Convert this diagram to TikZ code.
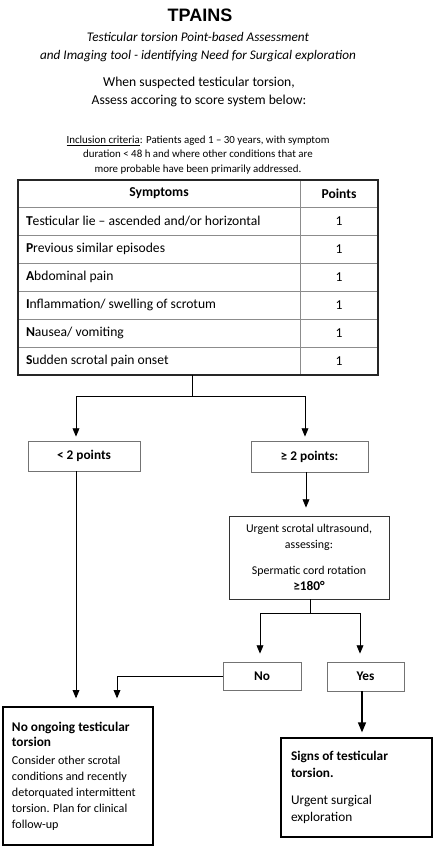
\documentclass[tikz,border=0pt]{standalone}
\usepackage{fontspec}
\setmainfont{Carlito}
\newfontfamily\headfont{Liberation Sans}
\usetikzlibrary{arrows,positioning}
\tikzstyle{symptom} = [rectangle, draw=black!45, outer sep=0pt, inner xsep=8pt,
    text width=266pt, align=flush left, minimum height=28pt, font=\fontsize{13.6}{16}\selectfont]
\tikzstyle{points} = [rectangle, draw=black!45, outer sep=0pt, 
    minimum width=78pt, minimum height=28pt, font=\fontsize{13.6}{16}\selectfont]
\tikzstyle{branch} = [rectangle, draw=black!55, text centered,
    minimum height=29pt, font=\fontsize{13.3}{16}\selectfont\bfseries]
\tikzstyle{exam} = [rectangle, draw=black!80, align=center,
    minimum width=160pt, minimum height=83pt, font=\fontsize{11.9}{16}\selectfont]
\tikzstyle{outcome} = [rectangle, draw, line width=1.4pt, align=flush left,
    font=\fontsize{12.1}{15.9}\selectfont]

\begin{document}
\begin{tikzpicture}[x=1pt, y=-1pt, >=triangle 45, line width=0.9pt]
    \useasboundingbox (0,0) rectangle (433,846);

    \node[font=\headfont\bfseries\fontsize{18}{20}\selectfont] (title) at (200,15) {TPAINS};
    \node[align=center, font=\itshape\fontsize{13.2}{18}\selectfont] (subtitle) at (198,47)
        {Testicular torsion Point-based Assessment\\and Imaging tool - identifying Need for Surgical exploration};
    \node[align=center, font=\fontsize{13.6}{18}\selectfont] (assess) at (199,92)
        {When suspected testicular torsion,\\Assess accoring to score system below:};
    \node[align=center, font=\fontsize{10.9}{14.5}\selectfont] (inclusion) at (198,155)
        {\underline{Inclusion criteria}: Patients aged 1 – 30 years, with symptom\\duration < 48 h and where other conditions that are\\more probable have been primarily addressed.};

    % score table
    \node[symptom, align=center, minimum height=27pt, font=\fontsize{13.6}{16}\selectfont\bfseries] (hsym) at (159,193.5) {Symptoms};
    \node[points, minimum height=27pt, font=\fontsize{13.6}{16}\selectfont\bfseries, right=0pt of hsym] (hpts) {Points};
    \node[symptom, below=0pt of hsym] (s1) {\textbf{T}esticular lie – ascended and/or horizontal};
    \node[symptom, below=0pt of s1] (s2) {\textbf{P}revious similar episodes};
    \node[symptom, below=0pt of s2] (s3) {\textbf{A}bdominal pain};
    \node[symptom, below=0pt of s3] (s4) {\textbf{I}nflammation/ swelling of scrotum};
    \node[symptom, below=0pt of s4] (s5) {\textbf{N}ausea/ vomiting};
    \node[symptom, below=0pt of s5] (s6) {\textbf{S}udden scrotal pain onset};
    \node[points, right=0pt of s1] (p1) {1};
    \node[points, right=0pt of s2] (p2) {1};
    \node[points, right=0pt of s3] (p3) {1};
    \node[points, right=0pt of s4] (p4) {1};
    \node[points, right=0pt of s5] (p5) {1};
    \node[points, right=0pt of s6] (p6) {1};
    \draw[line width=1.2pt, black!85] (hsym.north west) rectangle (p6.south east);

    \node[branch, minimum width=112pt, minimum height=30pt] (low) at (84,456) {< 2 points};
    \node[branch, minimum width=117pt, minimum height=31pt] (high) at (309.5,456.5) {≥ 2 points:};
    \node[exam] (scan) at (309,557.5) {Urgent scrotal ultrasound,\\assessing:\\[10pt]Spermatic cord rotation\\\textbf{\fontsize{13.3}{16}\selectfont ≥180°}};
    \node[branch, minimum width=78pt, minimum height=28pt] (no) at (262,676) {No};
    \node[branch, minimum width=77pt] (yes) at (365.5,676.5) {Yes};

    \node[outcome, text width=132pt, inner xsep=9pt, minimum height=138pt] (noTorsion) at (78,776)
        {\textbf{\fontsize{13.3}{16}\selectfont No ongoing testicular\\torsion}\\[2pt]Consider other scrotal\\conditions and recently\\detorquated intermittent\\torsion. Plan for clinical\\follow-up\\[6pt]};
    \node[outcome, text width=131pt, inner xsep=10pt, minimum height=99pt, font=\fontsize{13.3}{17.5}\selectfont] (signs) at (356.5,787.5)
        {\textbf{Signs of testicular\\torsion.}\\[9pt]Urgent surgical\\exploration\\[6pt]};

    \coordinate (split) at (192,396);
    \coordinate (scanSplit) at (310,613);

    \path[draw] (s6.south -| split) -- (split);
    \path[draw,->,shorten >=4pt] (split) -| ([xshift=-8pt]low.north);
    \path[draw,->,shorten >=4pt] (split) -| ([xshift=-4.5pt]high.north);
    \path[draw,->,shorten >=8pt] ([xshift=-3.5pt]high.south) -- ([xshift=-3pt]scan.north);
    \path[draw,->,shorten >=8pt] ([xshift=-8pt]low.south) -- ([xshift=-2pt]noTorsion.north);
    \path[draw] ([xshift=1pt]scan.south) -- (scanSplit);
    \path[draw,->,shorten >=8pt] (scanSplit) -| ([xshift=-2pt]no.north);
    \path[draw,->,shorten >=8pt] (scanSplit) -| ([xshift=-5.5pt]yes.north);
    \path[draw,->,shorten >=8pt] (no.west) -| ([xshift=39pt]noTorsion.north);
    \path[draw,->,line width=1.3pt,shorten >=5pt] ([xshift=-3.5pt]yes.south) -- ([xshift=5.5pt]signs.north);
\end{tikzpicture}
\end{document}
